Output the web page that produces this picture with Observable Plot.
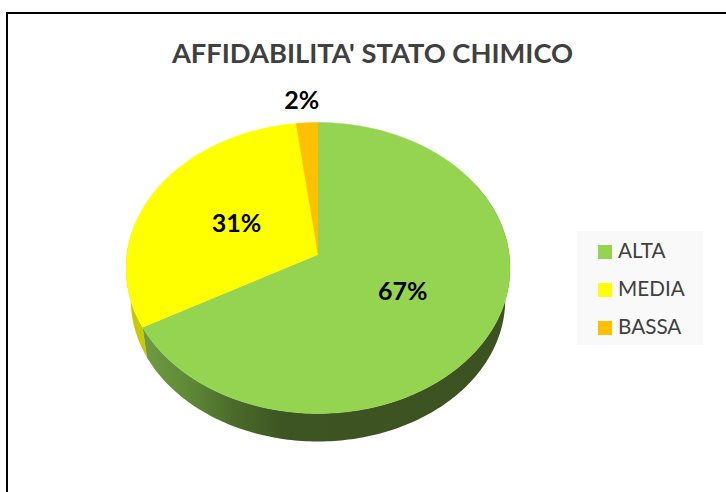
<!DOCTYPE html>
<html>
<head>
<meta charset="utf-8">
<script src="https://cdn.jsdelivr.net/npm/d3@7"></script>
<script src="https://cdn.jsdelivr.net/npm/@observablehq/plot@0.6"></script>
<style>
html,body{margin:0;padding:0;background:#fff}
#page{position:relative;width:726px;height:492px;overflow:hidden;font-family:Lato,sans-serif}
#frame{position:absolute;left:6px;top:12px;width:800px;height:600px;border:2px solid #000;box-sizing:border-box}
#title{position:absolute;left:0;width:745px;top:37px;text-align:center;font-size:27.3px;font-weight:700;color:#404040;line-height:32px;white-space:nowrap}
#chart{position:absolute;left:0;top:0}
#chart svg{display:block;background:transparent}
#legend{position:absolute;left:577px;top:231px;width:126px;height:114px;background:#f9f9f9}
.item{position:absolute;left:21px;height:38px;line-height:36px;font-size:20.7px;color:#404040;white-space:nowrap}
.item i{position:absolute;left:0;top:13px;width:14px;height:14px}
.item span{margin-left:20px}
</style>
</head>
<body>
<div id="page">
  <div id="frame"></div>
  <div id="title"></div>
  <div id="chart"></div>
  <div id="legend"></div>
</div>
<script>
const titleText = "AFFIDABILITA' STATO CHIMICO";
const categories = ["ALTA", "MEDIA", "BASSA"];
const values = [67, 31, 2];
const labels = ["67%", "31%", "2%"];
const colors = ["#94d451", "#ffff00", "#ffc000"];

// perspective view of the disc
const persp = 0.0928, lowScale = 0.975, lowDrop = 32 / 144.2;
const pxX = 191.2, pxY = 144.2, cx = 317.5, cy = 254;
const P = (deg, r = 1, s = 1, drop = 0) => {
  const t = deg * Math.PI / 180, u = Math.sin(t) * r, v = Math.cos(t) * r, w = 1 + persp * v;
  return {x: s * u / w, y: s * v / w - drop};
};

const total = d3.sum(values);
let acc = 0;
const slices = categories.map((c, i) => {
  const a = acc / total * 360; acc += values[i];
  return {cat: c, a, b: acc / total * 360, label: labels[i]};
});

const arc = (a, b, r, s, drop) => {
  const n = Math.max(2, Math.ceil(Math.abs(b - a) / 1));
  return d3.range(n + 1).map(k => P(a + (b - a) * k / n, r, s, drop));
};

const topRows = slices.flatMap(sl =>
  [{x: 0, y: 0}, ...arc(sl.a, sl.b, 1, 1, 0)].map(p => ({...p, cat: sl.cat})));

const wall = (key, a, b) => [...arc(a, b, 1, 1, 0), ...arc(b, a, 1, lowScale, lowDrop)].map(p => ({...p, key}));
const greenWall = wall("g", 60, slices[0].b);
const yellowWall = wall("y", slices[0].b, 280);

const labelRows = slices.map((sl, i) => ({
  ...P((sl.a + sl.b) / 2, values[i] < 5 ? 1.17 : 0.5), label: sl.label
}));
const labelMark = (i, dx, dy) => Plot.text([labelRows[i]], {
  x: "x", y: "y", text: "label", dx, dy,
  fontSize: 25, fontWeight: 700, fill: "#000", fontFamily: "Lato, sans-serif"
});

const defs = () => {
  const d = d3.create("svg:defs");
  const g = d.append("linearGradient").attr("id", "wallGrad").attr("x1", "0%").attr("x2", "100%").attr("y1", "0%").attr("y2", "0%");
  [["0%", "#6f9c42"], ["12%", "#5f8a37"], ["25%", "#4a6a2a"], ["38%", "#3d5522"], ["100%", "#3c5220"]]
    .forEach(([o, c]) => g.append("stop").attr("offset", o).attr("stop-color", c));
  return d.node();
};

const chart = Plot.plot({
  width: 726, height: 492,
  marginTop: 0, marginRight: 0, marginBottom: 0, marginLeft: 0,
  axis: null,
  x: {domain: [-cx / pxX, (726 - cx) / pxX], range: [0, 726]},
  y: {domain: [(cy - 492) / pxY, cy / pxY], range: [492, 0]},
  color: {domain: categories, range: colors},
  style: {background: "transparent"},
  marks: [
    defs,
    Plot.line(yellowWall, {x: "x", y: "y", z: "key", fill: "#c9c900", stroke: "none"}),
    Plot.line(greenWall, {x: "x", y: "y", z: "key", fill: "url(#wallGrad)", stroke: "none"}),
    Plot.line(topRows, {x: "x", y: "y", z: "cat", fill: "cat", stroke: "cat", strokeWidth: 0.5}),
    labelMark(0, 0.5, 0),
    labelMark(1, 2, 2),
    labelMark(2, -3.5, -2)
  ]
});
document.getElementById("chart").appendChild(chart);
document.getElementById("title").textContent = titleText;

const legend = d3.select("#legend");
categories.forEach((c, i) => {
  const it = legend.append("div").attr("class", "item").style("top", (1 + i * 38) + "px");
  it.append("i").style("background", colors[i]);
  it.append("span").text(c);
});
</script>
</body>
</html>
